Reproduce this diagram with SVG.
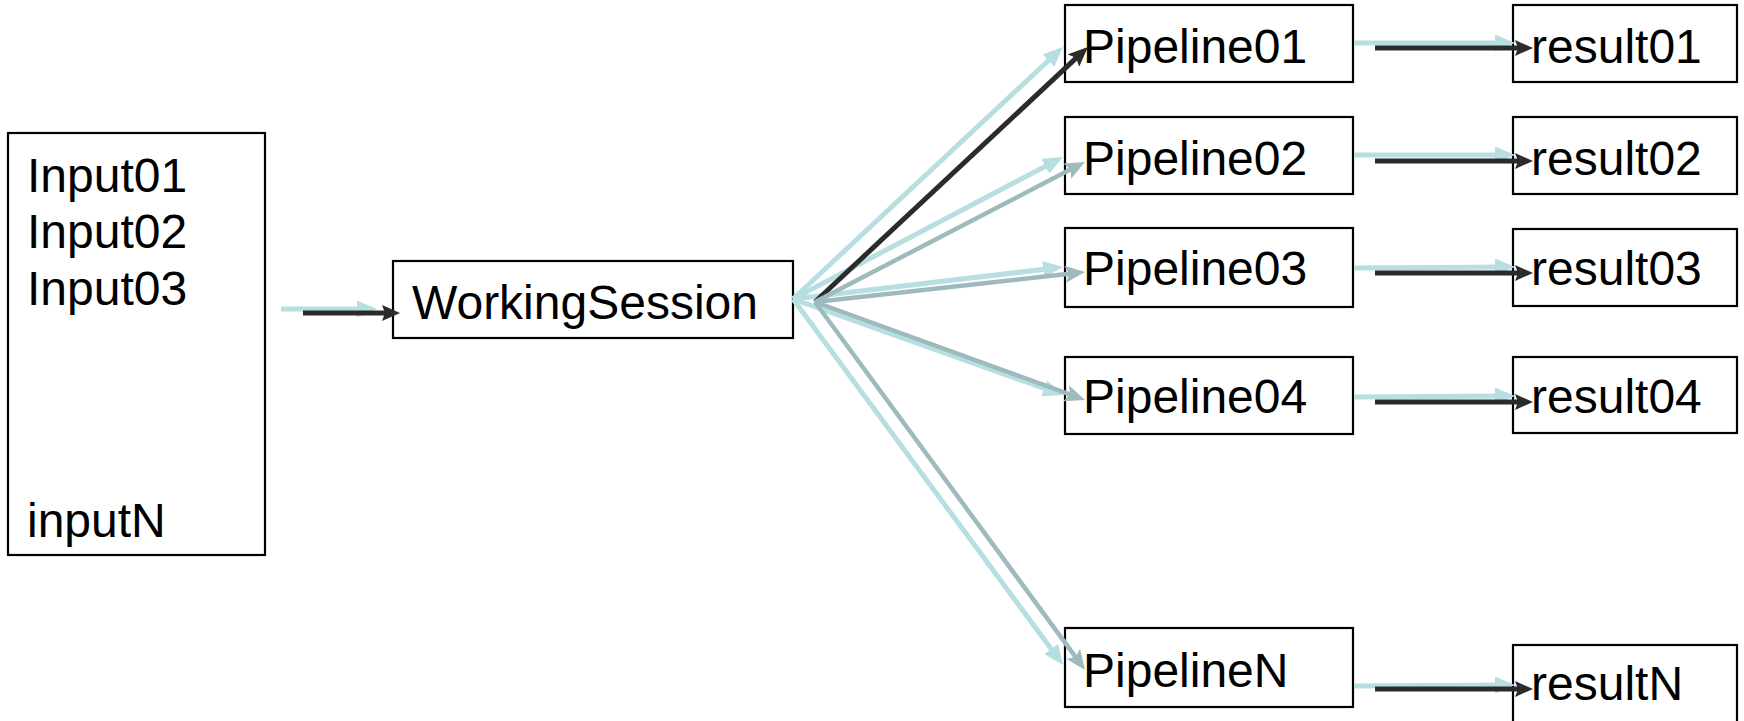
<svg xmlns="http://www.w3.org/2000/svg" width="1744" height="721" viewBox="0 0 1744 721">
  <style>
    .box { fill: #ffffff; stroke: #000000; stroke-width: 2.2; }
    .label { font-family: "Liberation Sans", Arial, sans-serif; font-size: 48px; fill: #000000; }
    .lt { fill: none; stroke: #b7dfe2; stroke-width: 5; }
    .dk { fill: none; stroke: #2b2b2b; stroke-width: 5; }
    .gr { fill: none; stroke: #9fbabd; stroke-width: 4.5; }
  </style>
  <defs>
    <marker id="head-lt" markerUnits="userSpaceOnUse" viewBox="0 0 20 17" markerWidth="20" markerHeight="17" refX="11" refY="8.5" orient="auto">
      <path d="M0,0 L20,8.5 L0,17 z" fill="#b7dfe2"/>
    </marker>
    <marker id="head-dk" markerUnits="userSpaceOnUse" viewBox="0 0 20 17" markerWidth="20" markerHeight="17" refX="11" refY="8.5" orient="auto">
      <path d="M0,0 L20,8.5 L0,17 L4,8.5 z" fill="#2b2b2b"/>
    </marker>
    <marker id="head-dk-sm" markerUnits="userSpaceOnUse" viewBox="0 0 18 16" markerWidth="18" markerHeight="16" refX="9" refY="8" orient="auto">
      <path d="M0,0 L18,8 L0,16 L3,8 z" fill="#2b2b2b"/>
    </marker>
    <marker id="head-gr" markerUnits="userSpaceOnUse" viewBox="0 0 20 17" markerWidth="20" markerHeight="17" refX="11" refY="8.5" orient="auto">
      <path d="M0,0 L20,8.5 L0,17 L4,8.5 z" fill="#9fbabd"/>
    </marker>
  </defs>

  <!-- nodes -->
  <g id="inputs">
    <rect class="box" x="8" y="133" width="257" height="422"/>
    <text class="label" x="27" y="192">Input01</text>
    <text class="label" x="27" y="248">Input02</text>
    <text class="label" x="27" y="305">Input03</text>
    <text class="label" x="27" y="537">inputN</text>
  </g>

  <g id="working-session">
    <rect class="box" x="393" y="261" width="400" height="77"/>
    <text class="label" x="412" y="319">WorkingSession</text>
  </g>

  <g id="pipeline01">
    <rect class="box" x="1065" y="5" width="288" height="77"/>
    <text class="label" x="1083" y="63">Pipeline01</text>
  </g>
  <g id="pipeline02">
    <rect class="box" x="1065" y="117" width="288" height="77"/>
    <text class="label" x="1083" y="175">Pipeline02</text>
  </g>
  <g id="pipeline03">
    <rect class="box" x="1065" y="228" width="288" height="79"/>
    <text class="label" x="1083" y="285">Pipeline03</text>
  </g>
  <g id="pipeline04">
    <rect class="box" x="1065" y="357" width="288" height="77"/>
    <text class="label" x="1083" y="413">Pipeline04</text>
  </g>
  <g id="pipelineN">
    <rect class="box" x="1065" y="628" width="288" height="79"/>
    <text class="label" x="1083" y="687">PipelineN</text>
  </g>

  <g id="result01">
    <rect class="box" x="1513" y="5" width="224" height="77"/>
    <text class="label" x="1531" y="63">result01</text>
  </g>
  <g id="result02">
    <rect class="box" x="1513" y="117" width="224" height="77"/>
    <text class="label" x="1531" y="175">result02</text>
  </g>
  <g id="result03">
    <rect class="box" x="1513" y="229" width="224" height="77"/>
    <text class="label" x="1531" y="285">result03</text>
  </g>
  <g id="result04">
    <rect class="box" x="1513" y="357" width="224" height="76"/>
    <text class="label" x="1531" y="413">result04</text>
  </g>
  <g id="resultN">
    <rect class="box" x="1513" y="645" width="224" height="80"/>
    <text class="label" x="1531" y="700">resultN</text>
  </g>

  <!-- connectors, drawn last so arrowheads sit over box edges -->
  <g id="connectors">
    <!-- inputs to session -->
    <line class="lt" x1="281" y1="309" x2="368" y2="309" marker-end="url(#head-lt)"/>
    <line class="dk" x1="303" y1="313" x2="391" y2="313" marker-end="url(#head-dk-sm)"/>

    <!-- session fan-out, light strokes -->
    <line class="lt" x1="793" y1="299" x2="1056.4" y2="53.1" marker-end="url(#head-lt)"/>
    <line class="lt" x1="793" y1="299" x2="1055.0" y2="161.2" marker-end="url(#head-lt)"/>
    <line class="lt" x1="793" y1="299" x2="1054.1" y2="268.1" marker-end="url(#head-lt)"/>
    <line class="lt" x1="793" y1="299" x2="1054.5" y2="392.0" marker-end="url(#head-lt)"/>
    <line class="lt" x1="793" y1="299" x2="1057.7" y2="657.8" marker-end="url(#head-lt)"/>

    <!-- session fan-out, dark strokes -->
    <line class="dk" x1="815" y1="302" x2="1081.4" y2="53.1" marker-end="url(#head-dk)"/>
    <line class="gr" x1="815" y1="302" x2="1077.0" y2="166.1" marker-end="url(#head-gr)"/>
    <line class="gr" x1="815" y1="302" x2="1076.1" y2="273.0" marker-end="url(#head-gr)"/>
    <line class="gr" x1="815" y1="302" x2="1076.5" y2="396.9" marker-end="url(#head-gr)"/>
    <line class="gr" x1="815" y1="302" x2="1079.7" y2="662.7" marker-end="url(#head-gr)"/>

    <!-- pipelines to results -->
    <line class="lt" x1="1354" y1="43" x2="1506" y2="43" marker-end="url(#head-lt)"/>
    <line class="dk" x1="1375" y1="48" x2="1524" y2="48" marker-end="url(#head-dk-sm)"/>
    <line class="lt" x1="1354" y1="155" x2="1506" y2="155" marker-end="url(#head-lt)"/>
    <line class="dk" x1="1375" y1="161" x2="1524" y2="161" marker-end="url(#head-dk-sm)"/>
    <line class="lt" x1="1354" y1="268" x2="1506" y2="267" marker-end="url(#head-lt)"/>
    <line class="dk" x1="1375" y1="273" x2="1524" y2="273" marker-end="url(#head-dk-sm)"/>
    <line class="lt" x1="1354" y1="397" x2="1506" y2="396" marker-end="url(#head-lt)"/>
    <line class="dk" x1="1375" y1="402" x2="1524" y2="402" marker-end="url(#head-dk-sm)"/>
    <line class="lt" x1="1354" y1="686" x2="1506" y2="685" marker-end="url(#head-lt)"/>
    <line class="dk" x1="1375" y1="689" x2="1524" y2="689" marker-end="url(#head-dk-sm)"/>
  </g>
</svg>
